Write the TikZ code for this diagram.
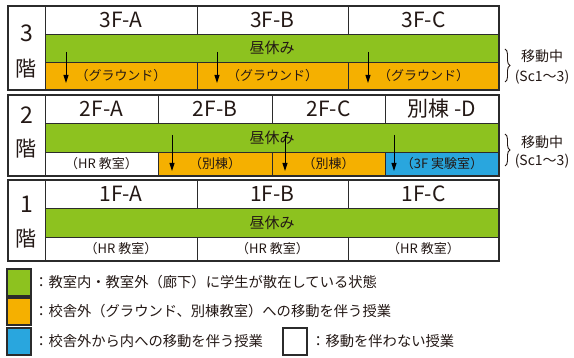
\documentclass[tikz,border=0pt]{standalone}
\usepackage{fontspec}
\setmainfont{Noto Sans CJK JP}
\usetikzlibrary{arrows.meta,decorations.pathreplacing}
\definecolor{lc}{HTML}{2B2B2B}
\definecolor{gr}{HTML}{8DC21F}
\definecolor{og}{HTML}{F5B000}
\definecolor{bl}{HTML}{29A6DE}
\definecolor{tx}{HTML}{231815}
\newcommand\fsz[1]{\fontsize{#1}{#1}\selectfont}
\tikzset{
  cell/.style={draw=lc, line width=0.9pt, rectangle, inner sep=0pt, outer sep=0pt, text=tx},
  hdr/.style={cell, fill=white, font=\fsz{21}},
  grn/.style={cell, fill=gr, font=\fsz{15}},
  org/.style={cell, fill=og, font=\fsz{13}},
  blu/.style={cell, fill=bl, font=\fsz{13}},
  wht/.style={cell, fill=white, font=\fsz{13}},
  labc/.style={cell, fill=white},
  flnum/.style={text=tx, font=\fsz{23}, inner sep=0pt},
  outer/.style={draw=lc, line width=1.6pt},
  arr/.style={draw=black, line width=1pt, -{Triangle[length=8pt,width=5pt]}},
  brc/.style={draw=tx, line width=0.9pt, decorate, decoration={brace, amplitude=5pt}},
  side/.style={text=tx, font=\fsz{14}, inner sep=0pt},
  legbox/.style={draw=lc, line width=1.2pt, minimum width=24pt, minimum height=27pt, inner sep=0pt},
  legtxt/.style={text=tx, font=\fsz{14.3}, anchor=west, inner sep=0pt}
}
\begin{document}
\begin{tikzpicture}[x=1pt,y=-1pt]
\useasboundingbox (0,0) rectangle (574,358);
% ---------- Floor 3 ----------
\node[labc, minimum width=37pt, minimum height=84pt] (l3) at (26.5,48) {};
\node[flnum] (n3) at (26.5,33) {3};
\node[flnum, font=\fsz{21}] (k3) at (26.5,69) {階};
\node[hdr, minimum width=152pt, minimum height=28pt] (h3a) at (121,20) {3F-A};
\node[hdr, minimum width=151pt, minimum height=28pt] (h3b) at (272.5,20) {3F-B};
\node[hdr, minimum width=151pt, minimum height=28pt] (h3c) at (423.5,20) {3F-C};
\node[grn, minimum width=454pt, minimum height=28pt] (g3) at (272,48) {昼休み};
\node[org, minimum width=152pt, minimum height=28pt] (o3a) at (121,76) {（グラウンド）};
\node[org, minimum width=151pt, minimum height=28pt] (o3b) at (272.5,76) {（グラウンド）};
\node[org, minimum width=151pt, minimum height=28pt] (o3c) at (423.5,76) {（グラウンド）};
\draw[outer] (8,6) rectangle (499,90);
\coordinate (a3s1) at (66,52); \coordinate (a3e1) at (66,83);
\coordinate (a3s2) at (217,52); \coordinate (a3e2) at (217,83);
\coordinate (a3s3) at (368,52); \coordinate (a3e3) at (368,83);
\draw[arr] (a3s1) -- (a3e1);
\draw[arr] (a3s2) -- (a3e2);
\draw[arr] (a3s3) -- (a3e3);
\coordinate (b3t) at (505,49); \coordinate (b3b) at (505,82);
\draw[brc] (b3t) -- (b3b);
\node[side] (m3) at (542,56) {移動中};
\node[side] (s3) at (542,77) {(Sc1～3)};
% ---------- Floor 2 ----------
\node[labc, minimum width=37pt, minimum height=81pt] (l2) at (26.5,135.5) {};
\node[flnum] (n2) at (26.5,115) {2};
\node[flnum, font=\fsz{21}] (k2) at (26.5,149) {階};
\node[hdr, minimum width=113pt, minimum height=28pt] (h2a) at (101.5,109) {2F-A};
\node[hdr, minimum width=114pt, minimum height=28pt] (h2b) at (215,109) {2F-B};
\node[hdr, minimum width=113pt, minimum height=28pt] (h2c) at (328.5,109) {2F-C};
\node[hdr, minimum width=114pt, minimum height=28pt] (h2d) at (442,109) {別棟 -D};
\node[grn, minimum width=454pt, minimum height=29pt] (g2) at (272,137.5) {昼休み};
\node[wht, minimum width=113pt, minimum height=24pt] (o2a) at (101.5,164) {（HR 教室）};
\node[org, minimum width=114pt, minimum height=24pt] (o2b) at (215,164) {（別棟）};
\node[org, minimum width=113pt, minimum height=24pt] (o2c) at (328.5,164) {（別棟）};
\node[blu, minimum width=114pt, minimum height=24pt] (o2d) at (442,164) {（3F 実験室）};
\draw[outer] (8,95) rectangle (499,176);
\coordinate (a2s1) at (172,135); \coordinate (a2e1) at (172,171);
\coordinate (a2s2) at (285,135); \coordinate (a2e2) at (285,171);
\coordinate (a2s3) at (394,135); \coordinate (a2e3) at (394,171);
\draw[arr] (a2s1) -- (a2e1);
\draw[arr] (a2s2) -- (a2e2);
\draw[arr] (a2s3) -- (a2e3);
\coordinate (b2t) at (505,134); \coordinate (b2b) at (505,166);
\draw[brc] (b2t) -- (b2b);
\node[side] (m2) at (542,142) {移動中};
\node[side] (s2) at (542,161) {(Sc1～3)};
% ---------- Floor 1 ----------
\node[labc, minimum width=37pt, minimum height=81pt] (l1) at (26.5,220.5) {};
\node[flnum] (n1) at (26.5,204) {1};
\node[flnum, font=\fsz{21}] (k1) at (26.5,239) {階};
\node[hdr, minimum width=152pt, minimum height=28pt] (h1a) at (121,194) {1F-A};
\node[hdr, minimum width=151pt, minimum height=28pt] (h1b) at (272.5,194) {1F-B};
\node[hdr, minimum width=151pt, minimum height=28pt] (h1c) at (423.5,194) {1F-C};
\node[grn, minimum width=454pt, minimum height=29pt] (g1) at (272,222.5) {昼休み};
\node[wht, minimum width=152pt, minimum height=24pt] (o1a) at (121,249) {（HR 教室）};
\node[wht, minimum width=151pt, minimum height=24pt] (o1b) at (272.5,249) {（HR 教室）};
\node[wht, minimum width=151pt, minimum height=24pt] (o1c) at (423.5,249) {（HR 教室）};
\draw[outer] (8,180) rectangle (499,261);
% ---------- Legend ----------
\node[legbox, fill=gr] (lg) at (19,282.5) {};
\node[legbox, fill=og] (lo) at (19,311.5) {};
\node[legbox, fill=bl] (lb) at (19,341.5) {};
\node[legbox, fill=white] (lw) at (295,341.5) {};
\node[legtxt] (tg) at (34,282.5) {：教室内・教室外（廊下）に学生が散在している状態};
\node[legtxt] (to) at (34,311.5) {：校舎外（グラウンド、別棟教室）への移動を伴う授業};
\node[legtxt] (tb) at (34,341.5) {：校舎外から内への移動を伴う授業};
\node[legtxt] (tw) at (311,341.5) {：移動を伴わない授業};
\end{tikzpicture}
\end{document}
